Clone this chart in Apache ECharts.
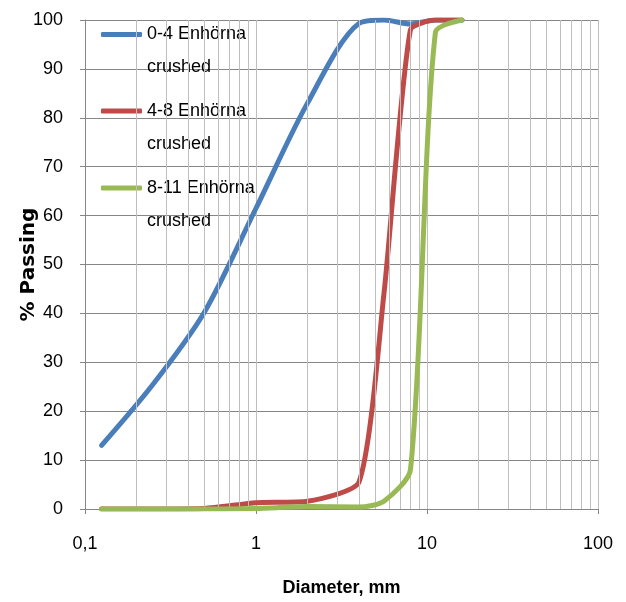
<!DOCTYPE html>
<html><head><meta charset="utf-8">
<script src="https://cdn.jsdelivr.net/npm/echarts@6/dist/echarts.min.js"></script>
<style>html,body{margin:0;padding:0;background:#fff}#c{width:626px;height:602px}</style>
</head><body><div id="c"></div>
<script>
// sieve sizes (mm)
const sieveSizes = [0.125, 0.25, 0.5, 1, 2, 4, 5.6, 8, 11.2, 16];
// % passing per material
const passing0to4 = [13, 25.5, 40.3, 61.5, 83, 99.3, 100, 99.2, 100, 100];
const passing4to8 = [0, 0, 0.1, 1.3, 1.6, 5.5, 44, 98, 100, 100];
const passing8to11 = [0, 0, 0, 0.1, 0.5, 0.4, 1.6, 8, 97.5, 100];
const seriesNames = ['0-4 Enhörna crushed', '4-8 Enhörna crushed', '8-11 Enhörna crushed'];
const seriesColors = ['#4A7EBB', '#BE4B48', '#98B954'];
const seriesSmooth = [0.3, 0.2, 0.25];
// log-axis minor gridline positions
const xMinorGrid = [0.2, 0.3, 0.4, 0.5, 0.6, 0.7, 0.8, 0.9, 2, 3, 4, 5, 6, 7, 8, 9, 20, 30, 40, 50, 60, 70, 80, 90];

const FONT = "'Liberation Sans', Arial, sans-serif";
const allValues = [passing0to4, passing4to8, passing8to11];

const chart = echarts.init(document.getElementById('c'), null, {renderer: 'canvas'});

const lineSeries = allValues.map((vals, i) => ({
  name: seriesNames[i],
  type: 'line',
  data: sieveSizes.map((s, k) => [s, vals[k]]),
  smooth: seriesSmooth[i],
  symbol: 'none',
  color: seriesColors[i],
  lineStyle: {width: 5, color: seriesColors[i], cap: 'round', join: 'round'},
  z: 3 + i,
  emphasis: {disabled: true}
}));

const legendTops = [-15, 61.5, 138.5];
const legends = seriesNames.map((n, i) => ({
  data: [n],
  left: 101,
  top: legendTops[i],
  padding: 0,
  itemGap: 0,
  itemWidth: 41,
  itemHeight: 5,
  icon: 'roundRect',
  itemStyle: {borderWidth: 0},
  selectedMode: false,
  formatter: name => '\n' + name.replace(' crushed', '\ncrushed'),
  textStyle: {fontFamily: FONT, fontSize: 18, color: '#000', lineHeight: 33}
}));

chart.setOption({
  animation: false,
  backgroundColor: '#fff',
  grid: {left: 85, right: 28, top: 20, bottom: 88, containLabel: false},
  legend: legends,
  xAxis: {
    type: 'log', logBase: 10, min: 0.1, max: 100,
    name: 'Diameter, mm', nameLocation: 'middle', nameGap: 70, nameMoveOverlap: false,
    nameTextStyle: {fontFamily: FONT, fontSize: 18, fontWeight: 'bold', color: '#000'},
    axisLine: {show: true, lineStyle: {color: '#868686', width: 1}},
    axisTick: {show: true, inside: false, length: 5, lineStyle: {color: '#868686'}},
    axisLabel: {
      margin: 26, fontFamily: FONT, fontSize: 18, color: '#000',
      formatter: v => String(Number(v.toPrecision(6))).replace('.', ',')
    },
    splitLine: {show: true, lineStyle: {color: '#BFBFBF', width: 1}}
  },
  yAxis: {
    type: 'value', min: 0, max: 100, interval: 10,
    name: '% Passing', nameLocation: 'middle', nameGap: 46, nameRotate: 90, nameMoveOverlap: false,
    nameTextStyle: {fontFamily: "'DejaVu Sans', sans-serif", fontSize: 20, fontWeight: 'bold', color: '#000'},
    axisLine: {show: true, lineStyle: {color: '#868686', width: 1}},
    axisTick: {show: true, inside: false, length: 5, lineStyle: {color: '#868686'}},
    axisLabel: {margin: 22, fontFamily: FONT, fontSize: 18, color: '#000'},
    splitLine: {show: true, lineStyle: {color: '#868686', width: 1}}
  },
  series: [{
    name: 'minorGrid',
    type: 'line',
    data: [],
    z: 1,
    silent: true,
    markLine: {
      silent: true, symbol: 'none', animation: false,
      label: {show: false},
      lineStyle: {color: '#BFBFBF', width: 1, type: 'solid'},
      emphasis: {disabled: true},
      data: xMinorGrid.map(v => ({xAxis: v}))
    }
  }].concat(lineSeries)
});
</script>
</body></html>
